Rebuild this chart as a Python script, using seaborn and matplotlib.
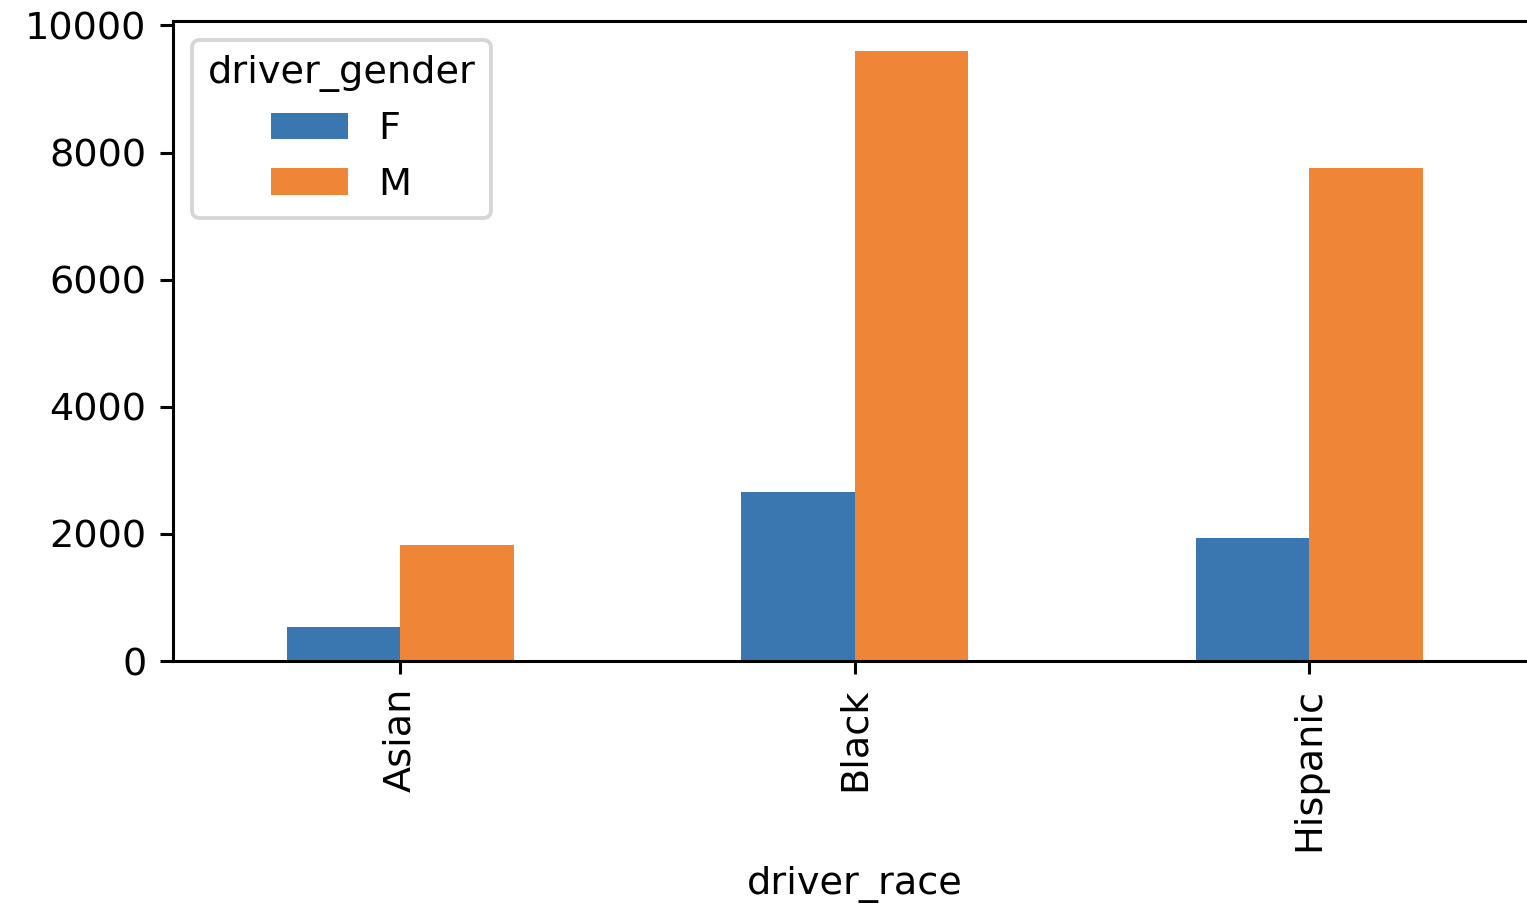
import matplotlib
matplotlib.use("Agg")
import matplotlib.pyplot as plt
import pandas as pd
import seaborn as sns

# Stop counts by driver race and gender
races = ["Asian", "Black", "Hispanic"]
genders = ["F", "M"]
female_counts = [535, 2666, 1937]
male_counts = [1822, 9591, 7764]
colors = ["#3a76af", "#ef8536"]

rows = []
for race, f, m in zip(races, female_counts, male_counts):
    rows.append({"driver_race": race, "driver_gender": "F", "count": f})
    rows.append({"driver_race": race, "driver_gender": "M", "count": m})
df = pd.DataFrame(rows)

DPI = 275
fig = plt.figure(figsize=(1527 / DPI, 908 / DPI), dpi=DPI)
ax = fig.add_axes([173 / 1527, 1 - 661 / 908, (1536.5 - 173) / 1527, (661 - 21) / 908])

sns.barplot(
    data=df, x="driver_race", y="count", hue="driver_gender",
    hue_order=genders, order=races, palette=colors,
    width=0.5, saturation=1, gap=0, ax=ax,
)

ax.set_ylabel("")
ax.set_xlabel("driver_race")
ax.set_yticks([0, 2000, 4000, 6000, 8000, 10000])
ax.tick_params(axis="x", labelrotation=90)
ax.legend(title="driver_gender", loc="upper left")

fig.savefig("out.png", dpi=DPI)
